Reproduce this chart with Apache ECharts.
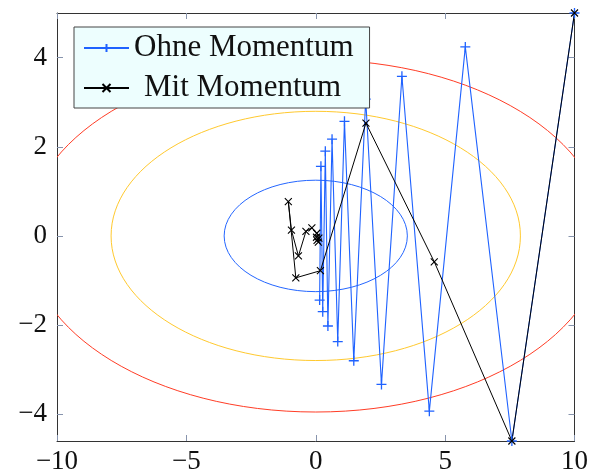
<!DOCTYPE html>
<html>
<head>
<meta charset="utf-8">
<script src="https://cdn.jsdelivr.net/npm/echarts@6/dist/echarts.min.js"></script>
<style>
  html, body { margin: 0; padding: 0; background: #fff; }
  #chart { width: 591px; height: 475px; }
</style>
</head>
<body>
<div id="chart"></div>
<script>
// Gradient descent paths on an elongated quadratic bowl
const seriesNames = ['Ohne Momentum', 'Mit Momentum'];

const ohneMomentum = [
  [10, 5], [7.58, -4.6], [5.78, 4.24], [4.39, -3.93], [3.33, 3.58],
  [2.54, -3.33], [1.93, 3.07], [1.47, -2.8], [1.11, 2.57], [0.85, -2.37],
  [0.63, 2.17], [0.47, -2.02], [0.37, 1.9], [0.27, -1.7], [0.2, 1.56],
  [0.15, -1.44]
];

const mitMomentum = [
  [10, 5], [7.58, -4.6], [4.58, -0.58], [1.94, 2.53], [0.18, -0.78],
  [-0.77, -0.94], [-1.06, 0.77], [-0.94, 0.13], [-0.67, -0.45],
  [-0.38, 0.1], [-0.15, 0.18], [0.04, 0.06], [0.12, -0.05],
  [0.1, -0.14], [0.05, -0.1], [0.03, -0.03]
];

// Level curves: semi-axes along x and y, centred on the origin
const contourSemiX = [3.54, 7.91, 11.18];
const contourSemiY = [1.25, 2.795, 3.95];
const contourColors = ['#2466ff', '#ffc92e', '#ff3d26'];

const xTicks = [-10, -5, 0, 5, 10];
const yTicks = [-4, -2, 0, 2, 4];

const FONT = 'Liberation Serif';
const tickColor = '#8794ad';
const frameColor = '#333333';

const fmt = v => (v < 0 ? '\u2212' + Math.abs(v) : String(v));

const plusPath = 'path://M0,5L10,5M5,0L5,10';
const crossPath = 'path://M0,0L10,10M10,0L0,10';

function axisCommon(showLabels) {
  return {
    axisLine: { show: true, onZero: false, lineStyle: { color: frameColor, width: 1 } },
    axisTick: { show: true, inside: true, length: 6, lineStyle: { color: tickColor, width: 1 } },
    splitLine: { show: false },
    axisLabel: {
      show: showLabels,
      fontFamily: FONT,
      fontSize: 27,
      color: '#111',
      formatter: fmt
    }
  };
}

const xBottom = Object.assign(axisCommon(true), {
  type: 'value', position: 'bottom', min: -10, max: 10
});
xBottom.axisTick.customValues = xTicks;
xBottom.axisLabel.customValues = xTicks;
xBottom.axisLabel.margin = 7;

const xTop = Object.assign(axisCommon(false), {
  type: 'value', position: 'top', min: -10, max: 10
});
xTop.axisTick.customValues = xTicks;

const yLeft = Object.assign(axisCommon(true), {
  type: 'value', position: 'left', min: -4.6, max: 5
});
yLeft.axisTick.customValues = yTicks;
yLeft.axisLabel.customValues = yTicks;
yLeft.axisLabel.margin = 10;

const yRight = Object.assign(axisCommon(false), {
  type: 'value', position: 'right', min: -4.6, max: 5
});
yRight.axisTick.customValues = yTicks;

const chart = echarts.init(document.getElementById('chart'), null, { renderer: 'canvas' });

chart.setOption({
  animation: false,
  backgroundColor: '#ffffff',
  grid: { left: 57, right: 15, top: 13, bottom: 32, containLabel: false },
  xAxis: [xBottom, xTop],
  yAxis: [yLeft, yRight],
  legend: {
    data: seriesNames,
    orient: 'vertical',
    left: 74,
    top: 27,
    padding: [3, 16, 2, 9],
    itemGap: 4,
    itemWidth: 45,
    itemHeight: 10,
    backgroundColor: '#edfefe',
    borderColor: '#444',
    borderWidth: 1,
    z: 10,
    formatter: name => (name === seriesNames[1] ? '{c|' + name + '}' : name),
    textStyle: {
      fontFamily: FONT, fontSize: 31, color: '#111', lineHeight: 36,
      rich: { c: { fontFamily: FONT, fontSize: 31, color: '#111', lineHeight: 36, padding: [0, 0, 0, 10] } }
    }
  },
  series: [
    {
      type: 'custom',
      name: 'contours',
      clip: true,
      silent: true,
      z: 1,
      data: contourSemiX.map((a, i) => [0, 0, a, contourSemiY[i]]),
      encode: { x: 0, y: 1 },
      renderItem: function (params, api) {
        const c = api.coord([api.value(0), api.value(1)]);
        const s = api.size([api.value(2), api.value(3)]);
        return {
          type: 'ellipse',
          shape: { cx: c[0], cy: c[1], rx: s[0], ry: s[1] },
          style: { fill: 'none', stroke: contourColors[params.dataIndex], lineWidth: 1 }
        };
      }
    },
    {
      type: 'line',
      name: seriesNames[0],
      data: ohneMomentum,
      z: 3,
      symbol: plusPath,
      symbolSize: 10,
      showSymbol: true,
      clip: false,
      lineStyle: { color: '#1f62ff', width: 1.1 },
      itemStyle: { color: 'none', borderColor: '#1f62ff', borderWidth: 1.3 }
    },
    {
      type: 'line',
      name: seriesNames[1],
      data: mitMomentum,
      z: 3,
      symbol: crossPath,
      symbolSize: 7,
      showSymbol: true,
      clip: false,
      lineStyle: { color: '#000000', width: 1 },
      itemStyle: { color: 'none', borderColor: '#000000', borderWidth: 1.1 }
    }
  ]
});
</script>
</body>
</html>
